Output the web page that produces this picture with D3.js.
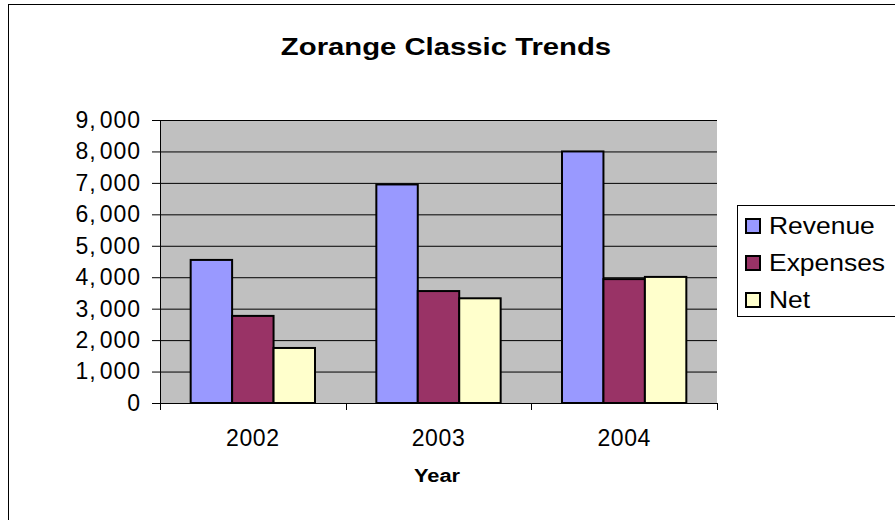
<!DOCTYPE html>
<html>
<head>
<meta charset="utf-8">
<script src="https://cdn.jsdelivr.net/npm/d3@7"></script>
<style>
  body { margin: 0; background: #fff; }
  svg text { font-family: Arial, "Liberation Sans", sans-serif; fill: #000; }
</style>
</head>
<body>
<div id="chart"></div>
<script>
// chart data
var years = ["2002", "2003", "2004"];
var seriesNames = ["Revenue", "Expenses", "Net"];
var revenue = [4550, 6950, 8000];
var expenses = [2770, 3560, 3940];
var net = [1750, 3330, 4010];
var yTicks = [0, 1000, 2000, 3000, 4000, 5000, 6000, 7000, 8000, 9000];

var colors = ["#9999FF", "#993366", "#FFFFCC"];
var seriesValues = [revenue, expenses, net];

var W = 895, H = 520;
var margin = {top: 120, left: 160, right: 178, bottom: 117};
var width = W - margin.left - margin.right,
    height = H - margin.top - margin.bottom;

var svg = d3.select("#chart").append("svg")
    .attr("width", W)
    .attr("height", H);

// text that is a bit wider than plain Arial (like the original)
function wideText(parent, x, y, sx, txt) {
    return parent.append("text")
        .attr("transform", "translate(" + x + "," + y + ") scale(" + sx + ",1)")
        .text(txt);
}

// outer chart frame (runs off the right and bottom edge)
svg.append("rect")
    .attr("x", 8.5).attr("y", 4.5)
    .attr("width", 1000).attr("height", 1000)
    .attr("fill", "none")
    .attr("stroke", "#000")
    .attr("stroke-width", 1);

// title
wideText(svg, 446, 55, 1.22, "Zorange Classic Trends")
    .attr("text-anchor", "middle")
    .style("font-size", "24px")
    .style("font-weight", "bold");

var g = svg.append("g")
    .attr("transform", "translate(" + margin.left + "," + margin.top + ")");

var x0 = d3.scaleBand().domain(years).range([0, width]).paddingInner(0).paddingOuter(0);
var x1 = d3.scaleBand().domain(seriesNames).range([0, x0.bandwidth()]).paddingInner(0).paddingOuter(0.74);
var y = d3.scaleLinear().domain([0, 9000]).range([height, 0]);

// plot background
g.append("rect")
    .attr("x", 0).attr("y", 0)
    .attr("width", width).attr("height", height)
    .attr("fill", "#C0C0C0");

// gridlines
g.append("g")
    .attr("class", "grid")
    .call(d3.axisLeft(y).tickValues(yTicks).tickSizeInner(-width).tickSizeOuter(0).tickFormat(""))
    .call(function(sel) {
        sel.select(".domain").remove();
        sel.selectAll("line").attr("stroke", "#000");
    });

// bars
var groups = g.selectAll(".year")
    .data(years)
    .enter().append("g")
    .attr("class", "year")
    .attr("transform", function(d) { return "translate(" + x0(d) + ",0)"; });

groups.selectAll("rect")
    .data(function(d, i) {
        return seriesNames.map(function(s, j) { return {name: s, value: seriesValues[j][i], idx: j}; });
    })
    .enter().append("rect")
    .attr("x", function(d) { return x1(d.name); })
    .attr("y", function(d) { return y(d.value); })
    .attr("width", x1.bandwidth())
    .attr("height", function(d) { return height - y(d.value); })
    .attr("fill", function(d) { return colors[d.idx]; })
    .attr("stroke", "#000")
    .attr("stroke-width", 2);

// y axis
var fmt = d3.format(",");
g.append("g")
    .attr("class", "y axis")
    .call(d3.axisLeft(y).tickValues(yTicks).tickSizeInner(8).tickSizeOuter(0).tickPadding(11)
        .tickFormat(fmt))
    .call(function(sel) {
        sel.select(".domain").attr("stroke", "#000");
        sel.selectAll("line").attr("stroke", "#000");
        sel.selectAll("text")
            .attr("font-family", null)
            .attr("font-size", null)
            .style("font-size", "23px")
            .style("letter-spacing", "1px")
            .each(function(d) {
                // the original leaves a slightly wider gap after the thousands comma
                var t = d3.select(this);
                var parts = fmt(d).split(",");
                t.text(null);
                parts.forEach(function(p, k) {
                    t.append("tspan")
                        .attr("dx", k > 0 ? 3 : null)
                        .text(p + (k < parts.length - 1 ? "," : ""));
                });
            });
    });

// x axis: labels at band centres, ticks at band edges
var xAxis = g.append("g")
    .attr("class", "x axis")
    .attr("transform", "translate(0," + height + ")");

xAxis.call(d3.axisBottom(x0).tickSize(0).tickPadding(27))
    .call(function(sel) {
        sel.select(".domain").attr("stroke", "#000");
        sel.selectAll("text")
            .attr("font-family", null)
            .attr("font-size", null)
            .style("font-size", "23px")
            .style("letter-spacing", "0.6px");
    });

var edges = years.map(function(d) { return x0(d); }).concat([width]);
xAxis.selectAll(".edge")
    .data(edges)
    .enter().append("line")
    .attr("class", "edge")
    .attr("x1", function(d) { return Math.round(d) + 0.5; })
    .attr("x2", function(d) { return Math.round(d) + 0.5; })
    .attr("y1", 0)
    .attr("y2", 7)
    .attr("stroke", "#000");

// x axis title
wideText(svg, 437, 482, 1.15, "Year")
    .attr("text-anchor", "middle")
    .style("font-size", "19px")
    .style("font-weight", "bold");

// legend
var legend = svg.append("g").attr("class", "legend");

legend.append("rect")
    .attr("x", 737.5).attr("y", 205.5)
    .attr("width", 300).attr("height", 111)
    .attr("fill", "#fff")
    .attr("stroke", "#000")
    .attr("stroke-width", 1);

legend.selectAll(".item")
    .data(seriesNames)
    .enter().append("g")
    .attr("class", "item")
    .each(function(d, i) {
        var item = d3.select(this);
        var cy = 226 + i * 37;
        item.append("rect")
            .attr("x", 746)
            .attr("y", cy - 7)
            .attr("width", 14)
            .attr("height", 14)
            .attr("fill", colors[i])
            .attr("stroke", "#000")
            .attr("stroke-width", 2);
        wideText(item, 769, cy + 8, 1.15, d)
            .style("font-size", "23px");
    });
</script>
</body>
</html>
